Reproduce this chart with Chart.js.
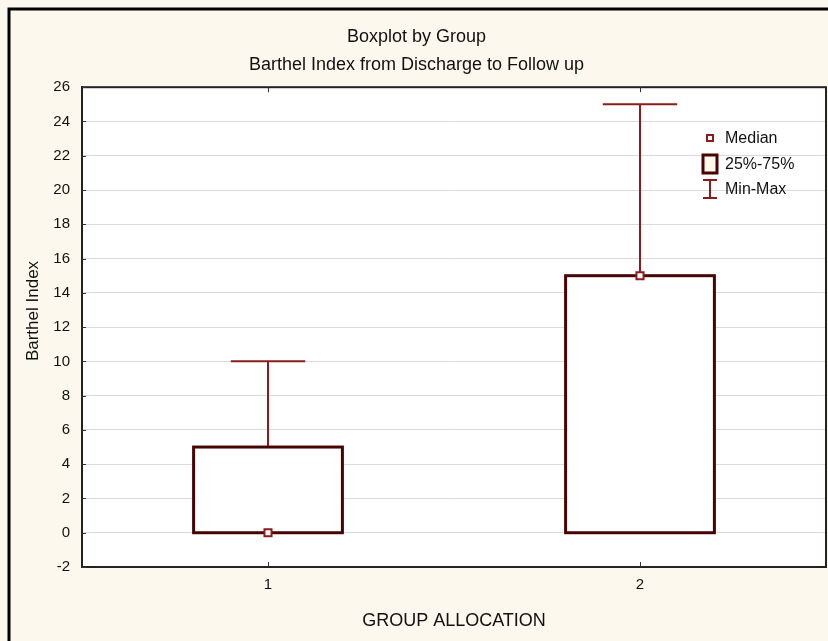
<!DOCTYPE html>
<html>
<head>
<meta charset="utf-8">
<title>Boxplot by Group</title>
<script src="https://cdn.jsdelivr.net/npm/chart.js@4.4.0/dist/chart.umd.min.js"></script>
<style>
    html, body { margin: 0; padding: 0; background: #fdf8ed; overflow: hidden; }
    #wrap { width: 833px; height: 641px; position: relative; }
</style>
</head>
<body>
<div id="wrap"><canvas id="boxChart"></canvas></div>
<script>
// Values
const groups = [1, 2];
const minValues = [0, 0];
const q1Values = [0, 0];
const medianValues = [0, 15];
const q3Values = [5, 15];
const maxValues = [10, 25];
const yTicks = [-2, 0, 2, 4, 6, 8, 10, 12, 14, 16, 18, 20, 22, 24, 26];
const legendLabels = ['Median', '25%-75%', 'Min-Max'];
const yTitle = 'Barthel Index';

const FONT = "'Liberation Sans', Arial, sans-serif";
const WHISKER = '#8e1b1b';
const BOX = '#470404';

// Background, frame, plot fill, boxes and whiskers, legend
const boxplotPlugin = {
    id: 'boxplot',
    beforeDraw(chart) {
        const { ctx, chartArea: a } = chart;
        ctx.save();
        ctx.fillStyle = '#fdf8ed';
        ctx.fillRect(0, 0, chart.width, chart.height);
        ctx.strokeStyle = '#000';
        ctx.lineWidth = 3;
        ctx.strokeRect(9, 9, chart.width + 20, chart.height + 20);
        ctx.fillStyle = '#fff';
        ctx.fillRect(a.left, a.top, a.right - a.left, a.bottom - a.top);
        ctx.restore();
    },
    beforeDatasetsDraw(chart) {
        const { ctx } = chart;
        const xs = chart.scales.x, ys = chart.scales.y;
        const unit = xs.getPixelForValue(1) - xs.getPixelForValue(0);
        const boxHalf = unit * 0.2;
        const capHalf = unit * 0.1;
        ctx.save();
        groups.forEach((g, i) => {
            const cx = xs.getPixelForValue(g);
            const yMin = ys.getPixelForValue(minValues[i]);
            const yQ1 = ys.getPixelForValue(q1Values[i]);
            const yQ3 = ys.getPixelForValue(q3Values[i]);
            const yMax = ys.getPixelForValue(maxValues[i]);
            // whiskers
            ctx.strokeStyle = WHISKER;
            ctx.lineWidth = 2;
            ctx.beginPath();
            ctx.moveTo(cx, yQ3); ctx.lineTo(cx, yMax);
            ctx.moveTo(cx - capHalf, yMax); ctx.lineTo(cx + capHalf, yMax);
            ctx.moveTo(cx, yQ1); ctx.lineTo(cx, yMin);
            ctx.moveTo(cx - capHalf, yMin); ctx.lineTo(cx + capHalf, yMin);
            ctx.stroke();
            // box
            ctx.fillStyle = '#fff';
            ctx.fillRect(cx - boxHalf, yQ3, boxHalf * 2, yQ1 - yQ3);
            ctx.strokeStyle = BOX;
            ctx.lineWidth = 3;
            ctx.strokeRect(cx - boxHalf, yQ3, boxHalf * 2, yQ1 - yQ3);
        });
        ctx.restore();
    },
    afterDraw(chart) {
        const { ctx, chartArea: a } = chart;
        const xs = chart.scales.x, ys = chart.scales.y;
        ctx.save();
        // plot frame
        ctx.strokeStyle = '#222';
        ctx.lineWidth = 2;
        ctx.strokeRect(a.left, a.top, a.right - a.left, a.bottom - a.top);
        // inner tick marks
        ctx.lineWidth = 1;
        ctx.strokeStyle = '#333';
        ctx.beginPath();
        ys.ticks.forEach(t => {
            const y = Math.round(ys.getPixelForValue(t.value)) + 0.5;
            ctx.moveTo(a.left, y); ctx.lineTo(a.left + 4, y);
        });
        xs.ticks.forEach(t => {
            const x = Math.round(xs.getPixelForValue(t.value)) + 0.5;
            ctx.moveTo(x, a.bottom); ctx.lineTo(x, a.bottom - 5);
            ctx.moveTo(x, a.top); ctx.lineTo(x, a.top + 5);
        });
        ctx.stroke();

        // y axis title, sits a bit above the plot's middle like the original
        ctx.save();
        ctx.translate(33, 311);
        ctx.rotate(-Math.PI / 2);
        ctx.font = '17px ' + FONT;
        ctx.fillStyle = '#111';
        ctx.textAlign = 'center';
        ctx.textBaseline = 'middle';
        ctx.fillText(yTitle, 0, 0);
        ctx.restore();

        // legend
        const lx = 710, rows = [138, 164, 189];
        ctx.font = '16px ' + FONT;
        ctx.fillStyle = '#111';
        ctx.textBaseline = 'middle';
        legendLabels.forEach((label, i) => ctx.fillText(label, 725, rows[i] + 1));

        ctx.strokeStyle = WHISKER;
        ctx.lineWidth = 2;
        ctx.fillStyle = '#fff';
        ctx.fillRect(lx - 3, rows[0] - 3, 6, 6);
        ctx.strokeRect(lx - 3, rows[0] - 3, 6, 6);

        ctx.fillStyle = '#fff8ec';
        ctx.fillRect(lx - 7, rows[1] - 9, 14, 18);
        ctx.strokeStyle = BOX;
        ctx.lineWidth = 3;
        ctx.strokeRect(lx - 7, rows[1] - 9, 14, 18);

        ctx.strokeStyle = WHISKER;
        ctx.lineWidth = 2;
        ctx.beginPath();
        ctx.moveTo(lx - 7, rows[2] - 9); ctx.lineTo(lx + 7, rows[2] - 9);
        ctx.moveTo(lx, rows[2] - 9); ctx.lineTo(lx, rows[2] + 9);
        ctx.moveTo(lx - 7, rows[2] + 9); ctx.lineTo(lx + 7, rows[2] + 9);
        ctx.stroke();
        ctx.restore();
    }
};

document.addEventListener('DOMContentLoaded', () => {
    Chart.defaults.font.family = FONT;
    Chart.defaults.color = '#111';

    const ctx = document.getElementById('boxChart').getContext('2d');
    new Chart(ctx, {
        type: 'scatter',
        data: {
            datasets: [{
                label: 'Median',
                data: groups.map((g, i) => ({ x: g, y: medianValues[i] })),
                pointStyle: 'rect',
                pointRadius: 5,
                pointHoverRadius: 5,
                pointBorderWidth: 2,
                borderColor: WHISKER,
                backgroundColor: '#fff'
            }]
        },
        options: {
            responsive: true,
            maintainAspectRatio: false,
            animation: false,
            layout: { padding: { top: 0, right: 0, left: 0, bottom: 0 } },
            plugins: {
                legend: { display: false },
                tooltip: { enabled: false },
                title: {
                    display: true,
                    text: 'Boxplot by Group',
                    color: '#111',
                    font: { size: 18, weight: 'normal' },
                    padding: { top: 26, bottom: 0 }
                },
                subtitle: {
                    display: true,
                    text: 'Barthel Index from Discharge to Follow up',
                    color: '#111',
                    font: { size: 18 },
                    padding: { top: 7, bottom: 11 }
                }
            },
            scales: {
                x: {
                    type: 'linear',
                    min: 0.5,
                    max: 2.5,
                    afterBuildTicks: scale => { scale.ticks = groups.map(v => ({ value: v })); },
                    afterFit: scale => { scale.height = 74; },
                    grid: { display: false, drawTicks: false },
                    border: { display: true, color: '#222', width: 2 },
                    ticks: { font: { size: 15 }, padding: 9, callback: v => String(v) },
                    title: {
                        display: true,
                        text: 'GROUP ALLOCATION',
                        font: { size: 18 },
                        padding: { top: 0, bottom: 9 }
                    }
                },
                y: {
                    min: -2,
                    max: 26,
                    afterBuildTicks: scale => { scale.ticks = yTicks.map(v => ({ value: v })); },
                    afterFit: scale => { scale.width = 82; },
                    grid: { color: '#dadada', lineWidth: 1, drawTicks: false },
                    border: { display: true, color: '#222', width: 2 },
                    ticks: { font: { size: 15 }, padding: 12 }
                }
            }
        },
        plugins: [boxplotPlugin]
    });
});
</script>
</body>
</html>
